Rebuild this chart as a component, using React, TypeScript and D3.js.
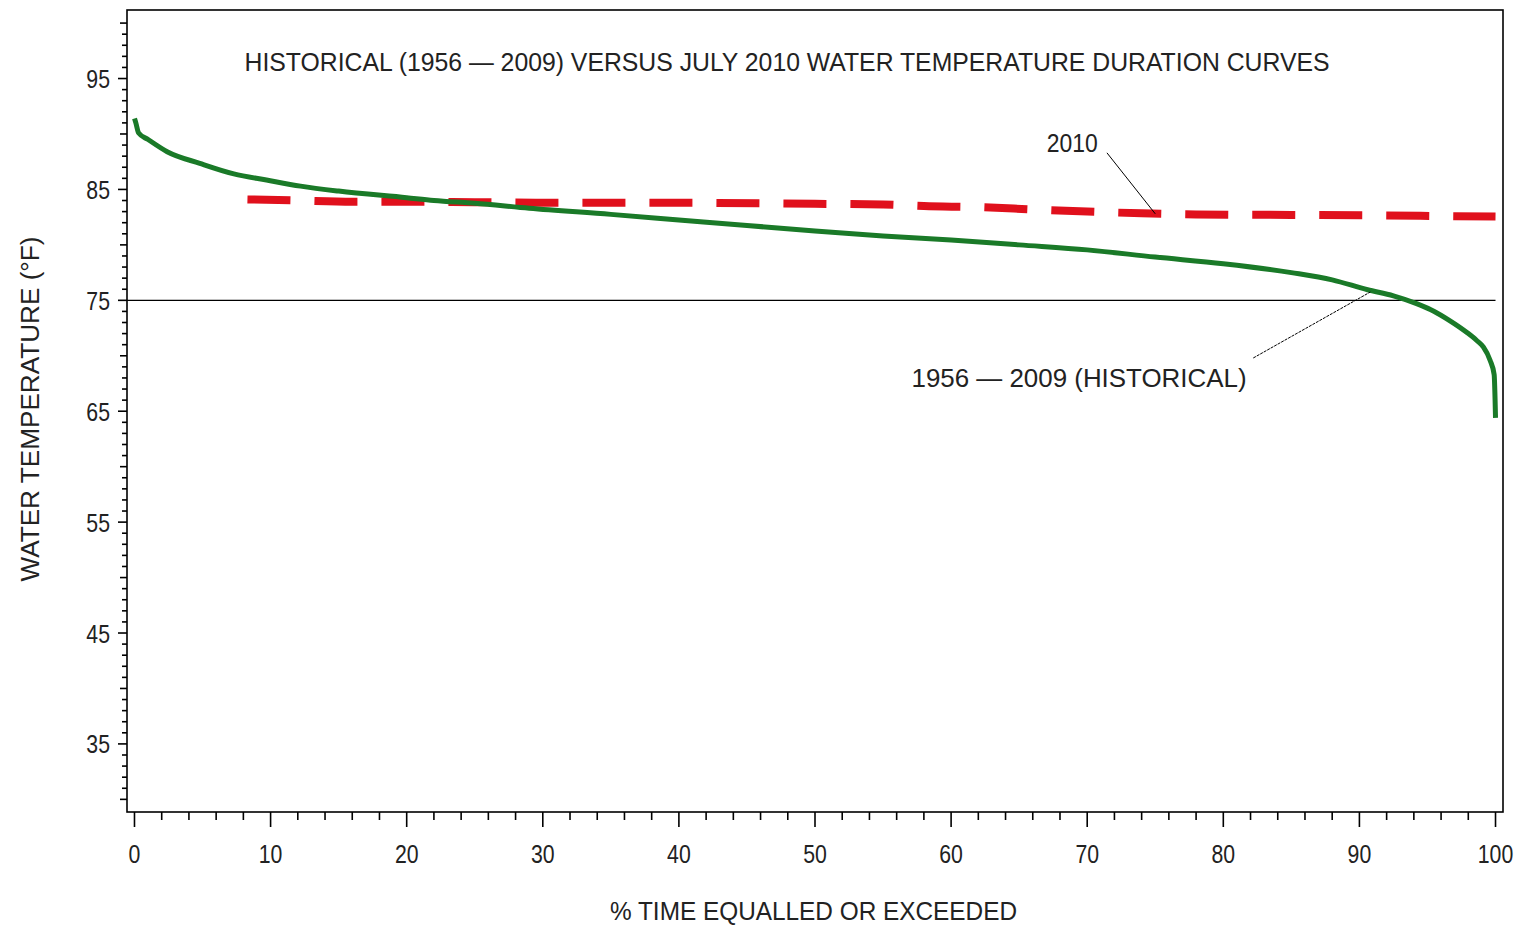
import * as d3 from "d3";

// historical (1956-2009) duration curve, % time vs °F
const histPct = [0, 0.1, 0.3, 1, 2.4, 4.8, 7.3, 9.7, 12.2, 15, 20, 22, 25, 29, 35, 40, 45, 50, 55, 60, 65, 70, 75, 80, 85, 88, 90.6, 92.5, 94.2, 95.5, 96.6, 97.9, 98.6, 99.1, 99.6, 99.9, 100];
const histTemp = [91.4, 91.0, 90.1, 89.5, 88.4, 87.35, 86.4, 85.85, 85.3, 84.85, 84.25, 84.0, 83.75, 83.3, 82.75, 82.25, 81.75, 81.25, 80.8, 80.45, 80.0, 79.55, 78.9, 78.3, 77.5, 76.85, 75.95, 75.4, 74.7, 74.0, 73.2, 72.1, 71.4, 70.8, 69.6, 68.3, 64.4];

// July 2010 duration curve
const y2010Pct = [8.3, 12, 16, 20, 25, 30, 40, 50, 55, 58, 62, 66, 70, 74, 78, 85, 92, 96, 100];
const y2010Temp = [84.1, 84.0, 83.9, 83.9, 83.85, 83.8, 83.8, 83.7, 83.65, 83.5, 83.4, 83.2, 83.0, 82.85, 82.75, 82.7, 82.65, 82.6, 82.55];

const xMajorTicks = [0, 10, 20, 30, 40, 50, 60, 70, 80, 90, 100];
const yMajorTicks = [35, 45, 55, 65, 75, 85, 95];
const refTemp = 75;

const titleText = "HISTORICAL (1956 \u2014 2009) VERSUS JULY 2010 WATER TEMPERATURE DURATION CURVES";
const xLabel = "% TIME EQUALLED OR EXCEEDED";
const yLabel = "WATER TEMPERATURE (\u00B0F)";

// annotations: label text, label centre, leader from -> to (data coords)
const annot2010 = { text: "2010", at: [68.9, 89.2], from: [71.45, 88.3], to: [75, 82.8] };
const annotHist = { text: "1956 \u2014 2009 (HISTORICAL)", at: [69.4, 68.0], from: [82.2, 69.8], to: [90.8, 75.75] };

const W = 1520;
const H = 927;
const FONT = "'Liberation Sans', Arial, sans-serif";

export default function App() {
  const x = d3.scaleLinear().domain([-0.55, 100.55]).range([127, 1503]);
  const y = d3.scaleLinear().domain([28.86, 101.18]).range([812, 10]);

  const line = d3
    .line<[number, number]>()
    .x((d) => x(d[0]))
    .y((d) => y(d[1]))
    .curve(d3.curveMonotoneX);

  const hist = histPct.map((p, i) => [p, histTemp[i]] as [number, number]);
  const d2010 = y2010Pct.map((p, i) => [p, y2010Temp[i]] as [number, number]);

  const xMinor = d3.range(0, 101, 2).filter((v) => v % 10 !== 0);
  const yMinor = d3.range(30, 101, 1).filter((v) => !yMajorTicks.includes(v));

  const [x0, x1] = x.range();
  const [yb, yt] = y.range();

  return (
    <svg
      width={W}
      height={H}
      style={{ position: "absolute", left: 0, top: 0, background: "#fff" }}
      fontFamily={FONT}
    >
      <rect x={0} y={0} width={W} height={H} fill="#fff" />

      {/* frame */}
      <rect x={x0} y={yt} width={x1 - x0} height={yb - yt} fill="none" stroke="#000" strokeWidth={1.6} />

      {/* x ticks */}
      {xMajorTicks.map((v) => (
        <g key={"xm" + v}>
          <line x1={x(v)} x2={x(v)} y1={yb} y2={yb + 15} stroke="#000" strokeWidth={1.6} />
          <text
            transform={`translate(${x(v)},${863}) scale(0.85,1)`}
            textAnchor="middle"
            fontSize={25}
            fill="#222"
          >
            {v}
          </text>
        </g>
      ))}
      {xMinor.map((v) => (
        <line key={"xn" + v} x1={x(v)} x2={x(v)} y1={yb} y2={yb + 8} stroke="#000" strokeWidth={1.6} />
      ))}

      {/* y ticks */}
      {yMajorTicks.map((v) => (
        <g key={"ym" + v}>
          <line x1={x0} x2={x0 - 9} y1={y(v)} y2={y(v)} stroke="#000" strokeWidth={1.6} />
          <text
            transform={`translate(${110},${y(v) + 9.5}) scale(0.85,1)`}
            textAnchor="end"
            fontSize={25}
            fill="#222"
          >
            {v}
          </text>
        </g>
      ))}
      {yMinor.map((v) => (
        <line
          key={"yn" + v}
          x1={x0}
          x2={x0 - (v % 5 === 0 ? 7 : 5)}
          y1={y(v)}
          y2={y(v)}
          stroke="#000"
          strokeWidth={1.6}
        />
      ))}

      {/* reference line at 75 °F */}
      <line x1={x0} x2={x(100)} y1={y(refTemp)} y2={y(refTemp)} stroke="#000" strokeWidth={1.4} />

      {/* 2010 curve */}
      <path
        d={line(d2010) ?? ""}
        fill="none"
        stroke="#e0101c"
        strokeWidth={8}
        strokeDasharray="43 24"
      />

      {/* historical curve */}
      <path d={line(hist) ?? ""} fill="none" stroke="#1a7a28" strokeWidth={5} strokeLinejoin="round" />

      {/* annotations */}
      <line
        x1={x(annot2010.from[0])}
        y1={y(annot2010.from[1])}
        x2={x(annot2010.to[0])}
        y2={y(annot2010.to[1])}
        stroke="#000"
        strokeWidth={1}
      />
      <text x={x(annot2010.at[0])} y={y(annot2010.at[1]) + 9} textAnchor="middle" fontSize={25} textLength={51} lengthAdjust="spacingAndGlyphs" fill="#222">
        {annot2010.text}
      </text>
      <line
        x1={x(annotHist.from[0])}
        y1={y(annotHist.from[1])}
        x2={x(annotHist.to[0])}
        y2={y(annotHist.to[1])}
        stroke="#000"
        strokeWidth={1}
        strokeDasharray="3 1"
      />
      <text x={x(annotHist.at[0])} y={y(annotHist.at[1]) + 9} textAnchor="middle" fontSize={25} textLength={335} lengthAdjust="spacingAndGlyphs" fill="#222">
        {annotHist.text}
      </text>

      {/* title */}
      <text x={787} y={71} textAnchor="middle" fontSize={25} textLength={1085} lengthAdjust="spacingAndGlyphs" fill="#222">
        {titleText}
      </text>

      {/* axis labels */}
      <text x={813.5} y={920} textAnchor="middle" fontSize={25} textLength={407} lengthAdjust="spacingAndGlyphs" fill="#222">
        {xLabel}
      </text>
      <text
        transform={`translate(${39},${409}) rotate(-90)`}
        textAnchor="middle"
        fontSize={25}
        textLength={345}
        lengthAdjust="spacingAndGlyphs"
        fill="#222"
      >
        {yLabel}
      </text>
    </svg>
  );
}
